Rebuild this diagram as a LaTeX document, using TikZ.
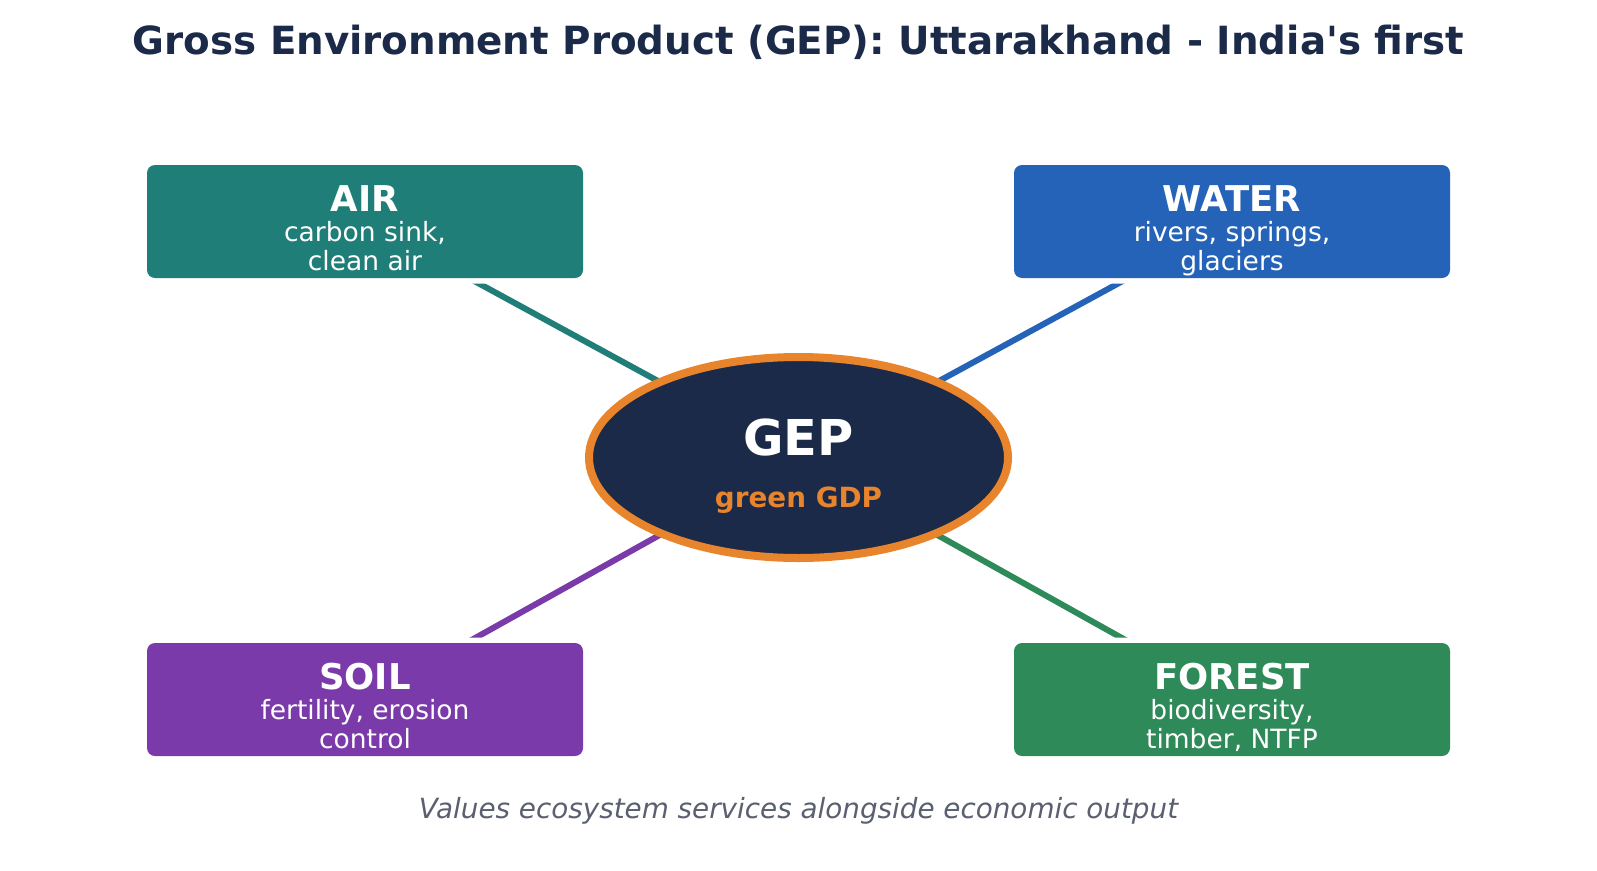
\documentclass[tikz,border=0pt]{standalone}
\usepackage{fontspec}
\setmainfont{DejaVu Sans}[Ligatures=TeXOff]
\usetikzlibrary{shapes.geometric,backgrounds}
\definecolor{navy}{HTML}{1C2A4A}
\definecolor{cteal}{HTML}{1F7E78}
\definecolor{cblue}{HTML}{2563B9}
\definecolor{cpurple}{HTML}{7B3AAA}
\definecolor{cgreen}{HTML}{2E8A58}
\definecolor{corange}{HTML}{E8842C}
\definecolor{cgray}{HTML}{5A6070}
\tikzset{
  catbox/.style={rectangle, rounded corners=8pt, minimum width=436pt, minimum height=113pt, inner sep=0pt, fill=#1, preaction={draw=white, line width=11pt}},
  cattitle/.style={anchor=base, text=white, font=\fontsize{35.5}{42}\selectfont\bfseries, inner sep=0pt},
  catsub/.style={anchor=base, text=white, font=\fontsize{26.5}{32}\selectfont, inner sep=0pt},
  conn/.style={line width=6pt, draw=#1},
}
\begin{document}
\begin{tikzpicture}[x=1pt,y=-1pt]
\useasboundingbox (0,0) rectangle (1597,870);
% title
\node[anchor=base, text=navy, font=\fontsize{38.8}{46}\selectfont\bfseries, inner sep=0pt] (title) at (798.5,54) {Gross Environment Product (GEP): Uttarakhand - India's first};
% boxes
\node[catbox=cteal] (air) at (365,221.5) {};
\node[catbox=cblue] (water) at (1232,221.5) {};
\node[catbox=cpurple] (soil) at (365,699.5) {};
\node[catbox=cgreen] (forest) at (1232,699.5) {};
% centre
\node[ellipse, minimum width=419pt, minimum height=201pt, inner sep=0pt, fill=navy, draw=corange, line width=8pt] (gep) at (798.5,457.5) {};
\node[anchor=base, text=white, font=\fontsize{49.4}{58}\selectfont\bfseries, inner sep=0pt] (gepT) at (798.5,455) {GEP};
\node[anchor=base, text=corange, font=\fontsize{27.8}{33}\selectfont\bfseries, inner sep=0pt] (gepS) at (798.5,507) {green GDP};
% box texts
\node[cattitle] (airT) at (365,211) {AIR};
\node[catsub] (airS1) at (365,241.5) {carbon sink,};
\node[catsub] (airS2) at (365,270.5) {clean air};
\node[cattitle] (waterT) at (1232,211) {WATER};
\node[catsub] (waterS1) at (1232,241.5) {rivers, springs,};
\node[catsub] (waterS2) at (1232,270.5) {glaciers};
\node[cattitle] (soilT) at (365,689) {SOIL};
\node[catsub] (soilS1) at (365,719.5) {fertility, erosion};
\node[catsub] (soilS2) at (365,748.5) {control};
\node[cattitle] (forestT) at (1232,689) {FOREST};
\node[catsub] (forestS1) at (1232,719.5) {biodiversity,};
\node[catsub] (forestS2) at (1232,748.5) {timber, NTFP};
% caption
\node[anchor=base, text=cgray, font=\fontsize{27.8}{33}\selectfont\itshape, inner sep=0pt] (caption) at (798.5,818) {Values ecosystem services alongside economic output};
% connectors
\begin{pgfonlayer}{background}
\fill[white] (0,0) rectangle (1597,870);
\draw[conn=cteal] (air.center) -- (gep.center);
\draw[conn=cblue] (water.center) -- (gep.center);
\draw[conn=cpurple] (soil.center) -- (gep.center);
\draw[conn=cgreen] (forest.center) -- (gep.center);
\end{pgfonlayer}
\end{tikzpicture}
\end{document}
